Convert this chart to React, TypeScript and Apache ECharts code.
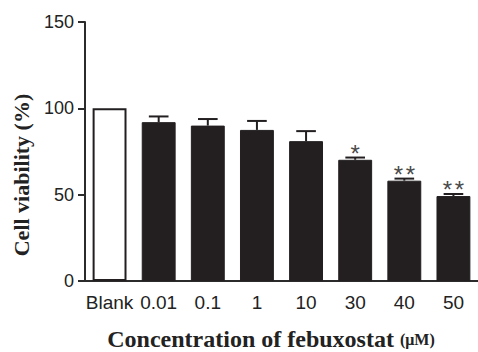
import React, { useEffect, useRef } from "react";
import * as echarts from "echarts";

const categories = ["Blank", "0.01", "0.1", "1", "10", "30", "40", "50"];
const means = [100, 92, 90, 87.5, 81, 70.2, 58.1, 49.2];
const errors = [0, 3.3, 3.8, 5.2, 5.8, 1.3, 1.2, 1.2];
const significance = ["", "", "", "", "", "*", "**", "**"];
const yTicks = { min: 0, max: 150, interval: 50 };

const INK = "#231f20";
const AXIS = "#2b2b2b";

export default function App() {
  const ref = useRef<HTMLDivElement>(null);
  useEffect(() => {
    if (!ref.current) return;
    const chart = echarts.init(ref.current, undefined, { renderer: "svg" });
    const barData = means.map((v, i) =>
      i === 0
        ? { value: v, itemStyle: { color: "#ffffff", borderColor: INK, borderWidth: 2 } }
        : { value: v, itemStyle: { color: INK, borderColor: INK, borderWidth: 1 } }
    );
    const errData = means.map((v, i) => [i, v, errors[i]]);
    chart.setOption({
      animation: false,
      grid: { left: 85, right: -2, top: 22, bottom: 71 },
      xAxis: {
        type: "category",
        data: categories,
        axisLine: { lineStyle: { color: AXIS, width: 2 } },
        axisTick: { alignWithLabel: true, length: 7, lineStyle: { color: AXIS, width: 2 } },
        axisLabel: { interval: 0, fontFamily: "Liberation Sans", fontSize: 19, color: "#222", margin: 12 },
      },
      yAxis: {
        type: "value",
        min: yTicks.min,
        max: yTicks.max,
        interval: yTicks.interval,
        axisLine: { show: true, lineStyle: { color: AXIS, width: 2 } },
        axisTick: { show: true, length: 7, lineStyle: { color: AXIS, width: 2 } },
        splitLine: { show: false },
        axisLabel: { fontFamily: "Liberation Sans", fontSize: 18, color: "#222", margin: 11 },
      },
      series: [
        {
          type: "bar",
          data: barData,
          barWidth: "69%",
        },
        {
          type: "custom",
          data: errData,
          encode: { x: 0, y: 1 },
          z: 3,
          renderItem: (params: any, api: any) => {
            const idx = api.value(0);
            const m = api.value(1);
            const e = api.value(2);
            const sig = significance[idx] || "";
            const base = api.coord([idx, m]);
            const top = api.coord([idx, m + e]);
            const band = api.size([1, 0])[0];
            const half = band * 0.2;
            const children: any[] = [];
            if (e > 0) {
              children.push({
                type: "line",
                shape: { x1: base[0], y1: base[1], x2: top[0], y2: top[1] },
                style: { stroke: INK, lineWidth: 2 },
              });
              children.push({
                type: "line",
                shape: { x1: top[0] - half, y1: top[1], x2: top[0] + half, y2: top[1] },
                style: { stroke: INK, lineWidth: 2 },
              });
            }
            const n = sig.length;
            for (let k = 0; k < n; k++) {
              children.push({
                type: "text",
                x: top[0] + (k - (n - 1) / 2) * 12,
                y: top[1] + 8,
                style: {
                  text: "*",
                  fontFamily: "Liberation Sans",
                  fontSize: 24,
                  fill: "#4a4a4a",
                  align: "center",
                  verticalAlign: "bottom",
                },
              });
            }
            return { type: "group", children };
          },
        },
      ],
      graphic: [
        {
          type: "text",
          x: 21,
          y: 175,
          rotation: Math.PI / 2,
          style: {
            text: "Cell viability (%)",
            fontFamily: "Liberation Serif",
            fontWeight: "bold",
            fontSize: 22,
            fill: "#222",
            align: "center",
            verticalAlign: "middle",
          },
        },
        {
          type: "text",
          x: 271,
          y: 339,
          style: {
            text: "{a|Concentration of febuxostat}{s| }{b|(μM)}",
            align: "center",
            verticalAlign: "middle",
            rich: {
              a: { fontFamily: "Liberation Serif", fontWeight: "bold", fontSize: 24, fill: "#222" },
              s: { fontFamily: "Liberation Serif", fontSize: 24, fill: "#222" },
              b: { fontFamily: "Liberation Serif", fontWeight: "bold", fontSize: 16, fill: "#222" },
            },
          },
        },
      ],
    });
    return () => chart.dispose();
  }, []);
  return (
    <div
      ref={ref}
      style={{ position: "fixed", left: 0, top: 0, width: 478, height: 352, background: "#fff" }}
    />
  );
}
